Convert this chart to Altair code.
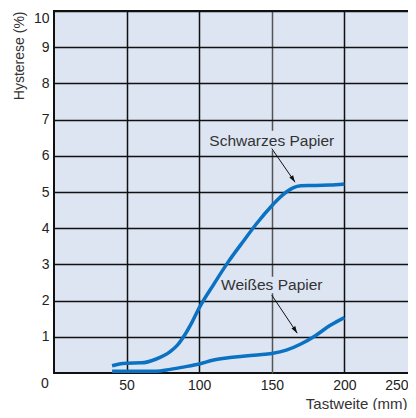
import altair as alt
import pandas as pd

# Schwarzes Papier (black paper)
black_x = [40, 45, 50, 60, 70, 80, 85, 90, 95, 100, 110, 120, 130, 140, 150, 155, 160, 165, 170, 175, 180, 190, 200]
black_y = [0.2, 0.25, 0.27, 0.28, 0.38, 0.59, 0.77, 1.05, 1.4, 1.8, 2.45, 3.07, 3.62, 4.15, 4.62, 4.83, 5.0, 5.12, 5.17, 5.18, 5.18, 5.19, 5.22]

# Weißes Papier (white paper)
white_x = [40, 50, 60, 70, 80, 90, 100, 110, 120, 130, 140, 150, 160, 170, 180, 190, 200]
white_y = [0.05, 0.05, 0.05, 0.05, 0.1, 0.17, 0.25, 0.36, 0.42, 0.46, 0.5, 0.54, 0.63, 0.8, 1.03, 1.31, 1.53]

# annotations
ann_text = ["Schwarzes Papier", "Weißes Papier"]
ann_x = [150, 150]
ann_y = [6.42, 2.43]
arrow_x1 = [150, 150]
arrow_y1 = [6.2, 2.15]
arrow_x2 = [166, 167.5]
arrow_y2 = [5.27, 1.1]

x_ticks = [50, 100, 150, 200, 250]
y_ticks = [1, 2, 3, 4, 5, 6, 7, 8, 9, 10]

BG = "#dde5f2"
BLUE = "#0b72c3"
FONT = "Liberation Sans"

lines_df = pd.concat([
    pd.DataFrame({"x": black_x, "y": black_y, "s": "Schwarzes Papier"}),
    pd.DataFrame({"x": white_x, "y": white_y, "s": "Weißes Papier"}),
])
ann_df = pd.DataFrame({"t": ann_text, "x": ann_x, "y": ann_y,
                       "x1": arrow_x1, "y1": arrow_y1, "x2": arrow_x2, "y2": arrow_y2})
zero_df = pd.DataFrame({"x": [0], "y": [0], "t": ["0"]})

xs = alt.Scale(domain=[0, 250], nice=False)
ys = alt.Scale(domain=[0, 10], nice=False)

x_axis = alt.Axis(values=x_ticks, title="Tastweite (mm)",
                  ticks=False, domain=False, labelPadding=5, labelFontSize=14,
                  labelAlign={"condition": {"test": "datum.value === 250", "value": "right"}, "value": "center"},
                  labelOffset={"condition": {"test": "datum.value === 250", "value": -9}, "value": 0},
                  titleFontSize=15, titleX=353, titleY=30, titleAlign="right",
                  titleBaseline="middle", titleAnchor="end",
                  labelColor="#222", titleColor="#333",
                  titleFontWeight="normal", labelFont=FONT, titleFont=FONT,
                  gridColor={"condition": {"test": "datum.value === 150", "value": "#555"}, "value": "#111"},
                  gridWidth=1.5, gridOpacity=1)
y_axis = alt.Axis(values=y_ticks, title="Hysterese (%)", titleAnchor="end",
                  ticks=False, domain=False, labelPadding=5, labelFontSize=14,
                  labelFlush=1,
                  titleFontSize=14, titlePadding=7, labelColor="#222", titleColor="#333",
                  titleFontWeight="normal", labelFont=FONT, titleFont=FONT,
                  gridColor="#111", gridWidth=1.5, gridOpacity=1)

lines = alt.Chart(lines_df).mark_line(
    color=BLUE, strokeWidth=3.5, interpolate="monotone"
).encode(
    x=alt.X("x:Q", scale=xs, axis=x_axis),
    y=alt.Y("y:Q", scale=ys, axis=y_axis),
    detail="s:N",
)

box2 = alt.Chart(ann_df).transform_filter("datum.t === 'Weißes Papier'").mark_point(
    shape="M-1,-0.15H1V0.15H-1Z", filled=True, fill=BG, opacity=1, strokeWidth=0
).encode(
    x=alt.X("x:Q", scale=xs), y=alt.Y("y:Q", scale=ys),
    size=alt.value(110 * 110),
)

box1 = alt.Chart(ann_df).transform_filter("datum.t === 'Schwarzes Papier'").mark_point(
    shape="M-1,-0.15H1V0.15H-1Z", filled=True, fill=BG, opacity=1, strokeWidth=0
).encode(
    x=alt.X("x:Q", scale=xs), y=alt.Y("y:Q", scale=ys),
    size=alt.value(132 * 132),
)

labels = alt.Chart(ann_df).mark_text(
    font=FONT, fontSize=15.5, color="#333", align="center", baseline="middle"
).encode(
    x=alt.X("x:Q", scale=xs), y=alt.Y("y:Q", scale=ys), text="t:N"
)

arrows = alt.Chart(ann_df).mark_rule(color="#111", strokeWidth=1).encode(
    x=alt.X("x1:Q", scale=xs), y=alt.Y("y1:Q", scale=ys),
    x2="x2:Q", y2="y2:Q",
)

heads = alt.Chart(ann_df).mark_point(
    shape="M0,0L-0.32,1L0.32,1Z", filled=True, color="#111", opacity=1,
    angle=147, size=196, strokeWidth=0
).encode(
    x=alt.X("x2:Q", scale=xs), y=alt.Y("y2:Q", scale=ys),
)

zero = alt.Chart(zero_df).mark_text(
    font=FONT, fontSize=14, color="#222", dx=-9, dy=11, baseline="middle"
).encode(
    x=alt.X("x:Q", scale=xs), y=alt.Y("y:Q", scale=ys), text="t:N"
)

chart = alt.layer(box1, box2, labels, arrows, heads, lines, zero).properties(
    width=363, height=362,
    background="white",
    padding={"left": 46, "top": 3, "right": -9, "bottom": 37},
    autosize=alt.AutoSizeParams(type="none"),
).configure_view(
    fill=BG, stroke="#111", strokeWidth=2
)

chart.save("out.html", embed_options={"renderer": "svg", "actions": False})
